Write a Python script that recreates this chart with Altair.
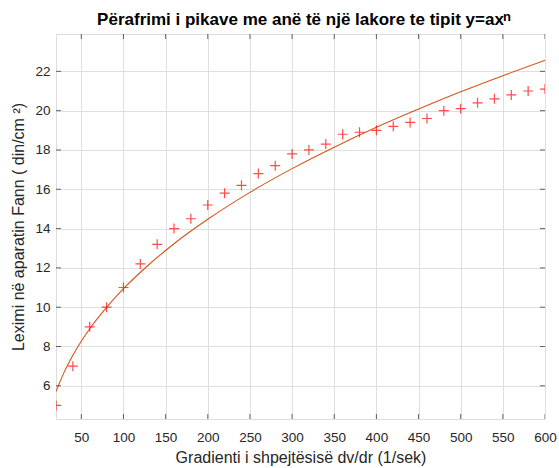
import altair as alt
import pandas as pd

# Measured points (x: velocity gradient, y: Fann reading)
x_data = [20, 40, 60, 80, 100, 120, 140, 160, 180, 200, 220, 240, 260, 280, 300,
          320, 340, 360, 380, 400, 420, 440, 460, 480, 500, 520, 540, 560, 580, 600]
y_data = [5.0, 7.0, 9.0, 10.0, 11.0, 12.2, 13.2, 14.0, 14.5, 15.2, 15.8, 16.2, 16.8, 17.2, 17.8,
          18.0, 18.3, 18.8, 18.9, 19.0, 19.2, 19.4, 19.6, 20.0, 20.1, 20.4, 20.6, 20.8, 21.0, 21.1]

# Fitted curve y = a x^n
x_curve = [20, 30, 40, 60, 80, 100, 130, 160, 200, 250, 300, 350, 400, 450, 500, 550, 600]
y_curve = [5.71, 6.72, 7.55, 8.90, 9.99, 10.94, 12.16, 13.23, 14.47, 15.84, 17.05, 18.14,
           19.15, 20.08, 20.96, 21.78, 22.56]

x_ticks = [50, 100, 150, 200, 250, 300, 350, 400, 450, 500, 550, 600]
y_ticks = [6, 8, 10, 12, 14, 16, 18, 20, 22]

title_main = ["Përafrimi i pikave me anë të një lakore te tipit y=ax"]
title_sup = ["n"]

FONT = "Liberation Sans"
W, H = 489, 385

pts = pd.DataFrame({"x": x_data, "y": y_data})
crv = pd.DataFrame({"x": x_curve, "y": y_curve})
xt = pd.DataFrame({"v": x_ticks})
yt = pd.DataFrame({"v": y_ticks})
ttl = pd.DataFrame({"t": title_main})
sup = pd.DataFrame({"t": title_sup})

xscale = alt.Scale(domain=[20, 600], nice=False, zero=False)
yscale = alt.Scale(domain=[4.31, 23.9], nice=False, zero=False)

xaxis = alt.Axis(values=x_ticks, grid=True, gridColor="#DFDFDF", domain=False, ticks=False,
                 labelFontSize=13.5, labelColor="#262626", labelPadding=11, labelFont=FONT,
                 labelFlush=False, labelOverlap=False,
                 title="Gradienti i shpejtësisë dv/dr (1/sek)", titleFontSize=16,
                 titleFont=FONT, titleFontWeight="normal", titleColor="#262626", titlePadding=6)
yaxis = alt.Axis(values=y_ticks, grid=True, gridColor="#DFDFDF", domain=False, ticks=False,
                 labelFontSize=13.5, labelColor="#262626", labelPadding=6, labelFont=FONT,
                 labelFlush=False, labelOverlap=False,
                 title="Leximi në aparatin Fann ( din/cm ²)", titleFontSize=16,
                 titleFont=FONT, titleFontWeight="normal", titleColor="#262626", titlePadding=8)

base_pts = alt.Chart(pts).mark_point(
    shape="M-1,0L1,0M0,-1L0,1", size=100, color="#FF0000", strokeWidth=1.2, filled=False, clip=True
).encode(x=alt.X("x:Q", scale=xscale, axis=xaxis), y=alt.Y("y:Q", scale=yscale, axis=yaxis))

line = alt.Chart(crv).mark_line(color="#D95319", strokeWidth=1.1, interpolate="monotone", clip=True).encode(
    x=alt.X("x:Q", scale=xscale), y=alt.Y("y:Q", scale=yscale))

tick_style = dict(color="#262626", thickness=1, size=10, clip=True)
xt_bot = alt.Chart(xt).mark_tick(orient="vertical", **tick_style).encode(
    x=alt.X("v:Q", scale=xscale), y=alt.value(H))
xt_top = alt.Chart(xt).mark_tick(orient="vertical", **tick_style).encode(
    x=alt.X("v:Q", scale=xscale), y=alt.value(0))
yt_l = alt.Chart(yt).mark_tick(orient="horizontal", **tick_style).encode(
    y=alt.Y("v:Q", scale=yscale), x=alt.value(0))
yt_r = alt.Chart(yt).mark_tick(orient="horizontal", **tick_style).encode(
    y=alt.Y("v:Q", scale=yscale), x=alt.value(W))

title_txt = alt.Chart(ttl).mark_text(
    font=FONT, fontSize=17, fontWeight="bold", color="#000000", align="center", baseline="alphabetic"
).encode(text="t:N", x=alt.value(W / 2), y=alt.value(-9))

sup_txt = alt.Chart(sup).mark_text(
    font=FONT, fontSize=13, fontWeight="bold", color="#000000", align="left", baseline="alphabetic"
).encode(text="t:N", x=alt.value(447), y=alt.value(-13))

chart = alt.layer(line, base_pts, xt_bot, xt_top, yt_l, yt_r, title_txt, sup_txt).properties(
    width=W, height=H,
    autosize=alt.AutoSizeParams(type="none"),
    padding={"left": 56, "top": 34, "right": 14, "bottom": 49},
).configure_view(stroke="#262626", strokeWidth=1).configure(background="white")

chart.save("out.html", embed_options={"renderer": "svg", "actions": False})
